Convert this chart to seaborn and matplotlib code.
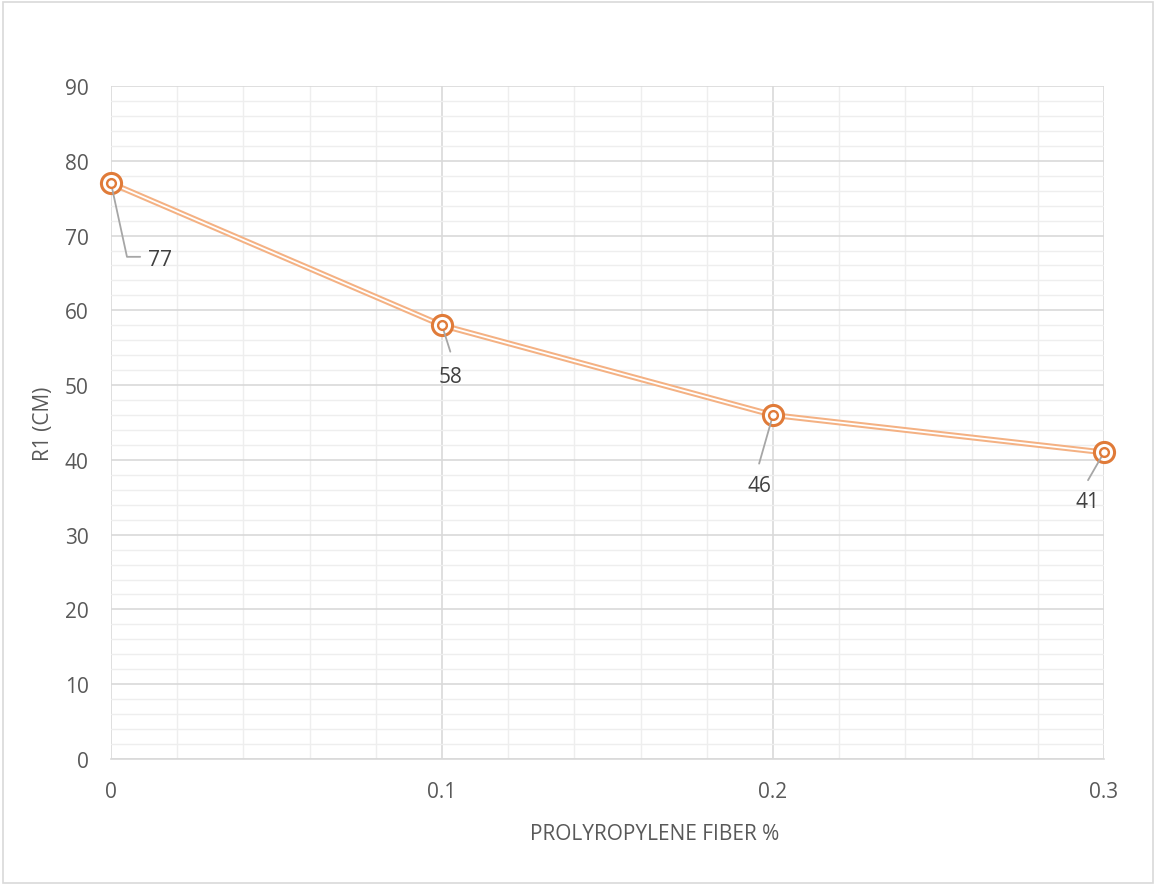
import matplotlib
matplotlib.use("Agg")
import matplotlib.pyplot as plt
import matplotlib.transforms as mtrans
from matplotlib.lines import Line2D
from matplotlib.patches import Rectangle
from matplotlib.ticker import MultipleLocator
import seaborn as sns
import pandas as pd

fiber_pct = [0.0, 0.1, 0.2, 0.3]
r1_cm = [77, 58, 46, 41]
x_ticks = [0, 0.1, 0.2, 0.3]
x_tick_labels = ["0", "0.1", "0.2", "0.3"]

# label placement (offset in points from each point) and leader-line vertices
label_offsets = [(35, -55), (6, -37), (-10, -51), (-12, -35)]
leader_paths = [
    [(0, 0), (11.5, -53), (21, -53)],
    [(0, 0), (6, -19)],
    [(0, 0), (-10, -35)],
    [(0, 0), (-11.5, -20)],
]

sns.set_theme(style="white")
plt.rcParams["font.family"] = ["Open Sans", "DejaVu Sans"]

text_color = "#595959"
line_color = "#F4B183"
marker_color = "#E07B39"

df = pd.DataFrame({"fiber": fiber_pct, "r1": r1_cm})

fig = plt.figure(figsize=(11.56, 8.87), dpi=100)
ax = fig.add_axes([111 / 1156, 1 - 760 / 887, 993 / 1156, 673 / 887])

# compound (double) line: thick orange stroke with a thin white core
sns.lineplot(data=df, x="fiber", y="r1", ax=ax, color=line_color, lw=4.2,
             zorder=3, legend=False)
sns.lineplot(data=df, x="fiber", y="r1", ax=ax, color="white", lw=1.3,
             zorder=4, legend=False)

# double-ring markers
ax.scatter(df["fiber"], df["r1"], s=210, facecolor="white",
           edgecolor=marker_color, linewidth=2.2, zorder=5, clip_on=False)
ax.scatter(df["fiber"], df["r1"], s=40, facecolor="white",
           edgecolor=marker_color, linewidth=1.7, zorder=6, clip_on=False)

# leader lines: vertices in points, anchored at the data point
pt_scale = mtrans.Affine2D().scale(fig.dpi / 72)
for x, y, path in zip(fiber_pct, r1_cm, leader_paths):
    tr = pt_scale + mtrans.ScaledTranslation(x, y, ax.transData)
    xs = [p[0] for p in path]
    ys = [p[1] for p in path]
    ax.add_line(Line2D(xs, ys, transform=tr, color="#A6A6A6", lw=1.3,
                       zorder=5.5, clip_on=False))

# data labels
for x, y, (dx, dy) in zip(fiber_pct, r1_cm, label_offsets):
    ax.annotate(str(y), xy=(x, y), xytext=(dx, dy), textcoords="offset points",
                ha="center", va="center", fontsize=15, color="#404040",
                zorder=7, annotation_clip=False)

ax.set_xlim(0, 0.3)
ax.set_ylim(0, 90)
ax.xaxis.set_major_locator(MultipleLocator(0.1))
ax.xaxis.set_minor_locator(MultipleLocator(0.02))
ax.yaxis.set_major_locator(MultipleLocator(10))
ax.yaxis.set_minor_locator(MultipleLocator(2))
ax.set_xticks(x_ticks)
ax.set_xticklabels(x_tick_labels)

ax.grid(which="major", color="#D9D9D9", lw=1.2, zorder=0)
ax.grid(which="minor", color="#EEEEEE", lw=1.0, zorder=0)
ax.set_axisbelow(True)
for side in ["top", "right", "left"]:
    ax.spines[side].set_visible(False)
ax.spines["bottom"].set_color("#D9D9D9")
ax.spines["bottom"].set_linewidth(1.2)

ax.tick_params(axis="both", which="both", length=0, labelsize=15,
               labelcolor=text_color)
ax.tick_params(axis="y", pad=16)
ax.tick_params(axis="x", pad=16)

ax.set_xlabel("PROLYROPYLENE FIBER %", fontsize=15, color=text_color)
ax.xaxis.set_label_coords((655 - 111) / 993, (760 - 835) / 673)
ax.xaxis.label.set_va("center")
ax.set_ylabel("R1 (CM)", fontsize=15, color=text_color)
ax.yaxis.set_label_coords((44 - 111) / 993, 0.5)
ax.yaxis.label.set_va("center")

fig.patches.append(Rectangle((3 / 1156, 3 / 887), 1150 / 1156, 881 / 887,
                             transform=fig.transFigure, fill=False,
                             edgecolor="#D9D9D9", lw=1.2))

fig.savefig("out.png", dpi=100, facecolor="white")
